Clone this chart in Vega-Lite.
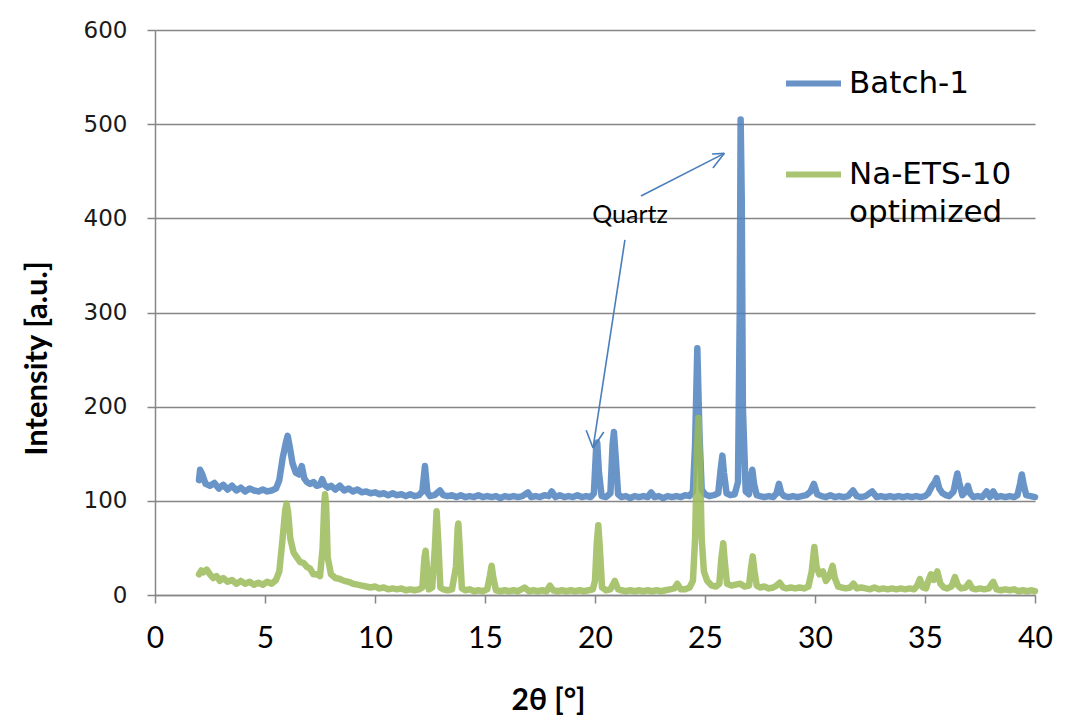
{
  "$schema": "https://vega.github.io/schema/vega-lite/v6.json",
  "width": 880,
  "height": 565,
  "autosize": {"type": "none"},
  "padding": {"left": 155, "top": 30, "right": 39, "bottom": 125},
  "background": "white",
  "config": {
    "view": {"stroke": null},
    "axis": {"domainColor": "#868686", "tickColor": "#868686", "gridColor": "#868686", "gridWidth": 1.5, "domainWidth": 1.5, "tickWidth": 1.5, "tickSize": 8},
    "style": {"guide-label": {"lineHeight": 38}}
  },
  "datasets": {
    "b": [
      {"x":2.0,"y":122},{"x":2.05,"y":133},{"x":2.15,"y":128},{"x":2.3,"y":118},{"x":2.5,"y":116},{"x":2.7,"y":119},{"x":2.9,"y":113},{"x":3.1,"y":117},{"x":3.3,"y":112},{"x":3.5,"y":116},{"x":3.7,"y":111},{"x":3.9,"y":114},{"x":4.1,"y":110},{"x":4.3,"y":113},{"x":4.5,"y":111},{"x":4.7,"y":110},{"x":4.9,"y":112},{"x":5.1,"y":110},{"x":5.3,"y":111},{"x":5.5,"y":113},{"x":5.65,"y":122},{"x":5.8,"y":145},{"x":5.95,"y":162},{"x":6.03,"y":169},{"x":6.12,"y":158},{"x":6.25,"y":140},{"x":6.4,"y":130},{"x":6.55,"y":128},{"x":6.67,"y":137},{"x":6.78,"y":124},{"x":6.9,"y":120},{"x":7.05,"y":118},{"x":7.2,"y":120},{"x":7.35,"y":116},{"x":7.5,"y":117},{"x":7.6,"y":123},{"x":7.7,"y":117},{"x":7.85,"y":114},{"x":8.0,"y":116},{"x":8.2,"y":112},{"x":8.4,"y":116},{"x":8.6,"y":111},{"x":8.8,"y":113},{"x":9.0,"y":110},{"x":9.2,"y":112},{"x":9.4,"y":109},{"x":9.6,"y":110},{"x":9.8,"y":108},{"x":10.0,"y":109},{"x":10.2,"y":107},{"x":10.4,"y":108},{"x":10.6,"y":106},{"x":10.8,"y":108},{"x":11.0,"y":106},{"x":11.2,"y":107},{"x":11.4,"y":105},{"x":11.6,"y":107},{"x":11.8,"y":105},{"x":12.0,"y":106},{"x":12.15,"y":110},{"x":12.27,"y":137},{"x":12.38,"y":109},{"x":12.5,"y":105},{"x":12.7,"y":106},{"x":12.95,"y":111},{"x":13.1,"y":106},{"x":13.3,"y":105},{"x":13.5,"y":106},{"x":13.7,"y":104},{"x":13.9,"y":106},{"x":14.1,"y":104},{"x":14.3,"y":105},{"x":14.5,"y":104},{"x":14.7,"y":106},{"x":14.9,"y":104},{"x":15.1,"y":105},{"x":15.3,"y":104},{"x":15.5,"y":105},{"x":15.7,"y":103},{"x":15.9,"y":105},{"x":16.1,"y":104},{"x":16.3,"y":105},{"x":16.5,"y":104},{"x":16.7,"y":105},{"x":16.95,"y":109},{"x":17.1,"y":104},{"x":17.3,"y":105},{"x":17.5,"y":104},{"x":17.7,"y":106},{"x":17.9,"y":105},{"x":18.03,"y":110},{"x":18.2,"y":104},{"x":18.4,"y":106},{"x":18.6,"y":104},{"x":18.8,"y":105},{"x":19.0,"y":104},{"x":19.2,"y":106},{"x":19.4,"y":104},{"x":19.6,"y":105},{"x":19.8,"y":104},{"x":19.95,"y":108},{"x":20.05,"y":155},{"x":20.1,"y":162},{"x":20.18,"y":130},{"x":20.3,"y":105},{"x":20.5,"y":104},{"x":20.7,"y":108},{"x":20.8,"y":160},{"x":20.86,"y":173},{"x":20.93,"y":150},{"x":21.05,"y":107},{"x":21.2,"y":104},{"x":21.4,"y":105},{"x":21.6,"y":103},{"x":21.8,"y":105},{"x":22.0,"y":104},{"x":22.2,"y":105},{"x":22.4,"y":104},{"x":22.55,"y":109},{"x":22.7,"y":104},{"x":22.9,"y":105},{"x":23.1,"y":103},{"x":23.3,"y":105},{"x":23.5,"y":104},{"x":23.7,"y":105},{"x":23.9,"y":104},{"x":24.1,"y":106},{"x":24.3,"y":105},{"x":24.45,"y":110},{"x":24.55,"y":160},{"x":24.65,"y":262},{"x":24.75,"y":170},{"x":24.85,"y":112},{"x":25.0,"y":107},{"x":25.2,"y":105},{"x":25.4,"y":106},{"x":25.6,"y":108},{"x":25.72,"y":135},{"x":25.79,"y":148},{"x":25.86,"y":130},{"x":25.98,"y":108},{"x":26.15,"y":106},{"x":26.35,"y":107},{"x":26.5,"y":120},{"x":26.58,"y":300},{"x":26.62,"y":505},{"x":26.67,"y":420},{"x":26.72,"y":200},{"x":26.85,"y":110},{"x":27.0,"y":107},{"x":27.08,"y":125},{"x":27.15,"y":133},{"x":27.23,"y":118},{"x":27.35,"y":106},{"x":27.5,"y":105},{"x":27.7,"y":104},{"x":27.9,"y":105},{"x":28.1,"y":104},{"x":28.25,"y":108},{"x":28.36,"y":118},{"x":28.47,"y":108},{"x":28.6,"y":105},{"x":28.8,"y":104},{"x":29.0,"y":105},{"x":29.2,"y":104},{"x":29.4,"y":105},{"x":29.6,"y":106},{"x":29.8,"y":110},{"x":29.95,"y":118},{"x":30.1,"y":107},{"x":30.3,"y":105},{"x":30.5,"y":104},{"x":30.7,"y":106},{"x":30.9,"y":104},{"x":31.1,"y":105},{"x":31.3,"y":104},{"x":31.5,"y":105},{"x":31.73,"y":111},{"x":31.9,"y":105},{"x":32.1,"y":104},{"x":32.3,"y":105},{"x":32.6,"y":110},{"x":32.8,"y":104},{"x":33.0,"y":105},{"x":33.2,"y":104},{"x":33.4,"y":105},{"x":33.6,"y":104},{"x":33.8,"y":105},{"x":34.0,"y":104},{"x":34.2,"y":105},{"x":34.4,"y":104},{"x":34.6,"y":105},{"x":34.8,"y":104},{"x":35.0,"y":105},{"x":35.15,"y":108},{"x":35.3,"y":115},{"x":35.45,"y":120},{"x":35.53,"y":124},{"x":35.65,"y":113},{"x":35.8,"y":108},{"x":35.95,"y":106},{"x":36.1,"y":105},{"x":36.3,"y":110},{"x":36.4,"y":122},{"x":36.47,"y":129},{"x":36.55,"y":120},{"x":36.7,"y":106},{"x":36.85,"y":110},{"x":36.95,"y":116},{"x":37.05,"y":108},{"x":37.2,"y":104},{"x":37.4,"y":105},{"x":37.6,"y":104},{"x":37.8,"y":110},{"x":37.95,"y":104},{"x":38.1,"y":110},{"x":38.25,"y":104},{"x":38.45,"y":105},{"x":38.65,"y":104},{"x":38.85,"y":105},{"x":39.05,"y":104},{"x":39.2,"y":106},{"x":39.32,"y":118},{"x":39.4,"y":128},{"x":39.48,"y":118},{"x":39.6,"y":106},{"x":39.8,"y":105},{"x":40.0,"y":104}
    ],
    "g": [
      {"x":2.0,"y":22},{"x":2.1,"y":26},{"x":2.2,"y":24},{"x":2.35,"y":27},{"x":2.5,"y":22},{"x":2.65,"y":18},{"x":2.8,"y":20},{"x":2.95,"y":15},{"x":3.1,"y":18},{"x":3.3,"y":14},{"x":3.5,"y":16},{"x":3.7,"y":12},{"x":3.9,"y":15},{"x":4.1,"y":12},{"x":4.3,"y":14},{"x":4.5,"y":11},{"x":4.7,"y":13},{"x":4.9,"y":11},{"x":5.1,"y":14},{"x":5.3,"y":12},{"x":5.5,"y":16},{"x":5.65,"y":25},{"x":5.8,"y":60},{"x":5.92,"y":90},{"x":5.98,"y":97},{"x":6.05,"y":88},{"x":6.15,"y":60},{"x":6.3,"y":45},{"x":6.45,"y":40},{"x":6.6,"y":35},{"x":6.75,"y":34},{"x":6.9,"y":30},{"x":7.05,"y":28},{"x":7.2,"y":22},{"x":7.35,"y":22},{"x":7.5,"y":20},{"x":7.62,"y":50},{"x":7.7,"y":100},{"x":7.73,"y":107},{"x":7.78,"y":95},{"x":7.85,"y":40},{"x":8.0,"y":22},{"x":8.2,"y":18},{"x":8.4,"y":17},{"x":8.6,"y":15},{"x":8.8,"y":14},{"x":9.0,"y":12},{"x":9.2,"y":11},{"x":9.4,"y":10},{"x":9.6,"y":9},{"x":9.8,"y":8},{"x":10.0,"y":9},{"x":10.2,"y":7},{"x":10.4,"y":8},{"x":10.6,"y":6},{"x":10.8,"y":7},{"x":11.0,"y":6},{"x":11.2,"y":7},{"x":11.4,"y":5},{"x":11.6,"y":6},{"x":11.8,"y":5},{"x":12.0,"y":6},{"x":12.15,"y":8},{"x":12.25,"y":40},{"x":12.3,"y":47},{"x":12.36,"y":30},{"x":12.45,"y":6},{"x":12.6,"y":8},{"x":12.72,"y":50},{"x":12.8,"y":89},{"x":12.88,"y":55},{"x":12.97,"y":8},{"x":13.1,"y":6},{"x":13.3,"y":5},{"x":13.5,"y":6},{"x":13.68,"y":30},{"x":13.76,"y":72},{"x":13.79,"y":76},{"x":13.85,"y":50},{"x":13.95,"y":7},{"x":14.1,"y":5},{"x":14.3,"y":6},{"x":14.5,"y":4},{"x":14.7,"y":5},{"x":14.9,"y":4},{"x":15.1,"y":6},{"x":15.22,"y":20},{"x":15.3,"y":31},{"x":15.38,"y":18},{"x":15.5,"y":5},{"x":15.7,"y":4},{"x":15.9,"y":5},{"x":16.1,"y":4},{"x":16.3,"y":5},{"x":16.5,"y":4},{"x":16.8,"y":8},{"x":17.0,"y":4},{"x":17.2,"y":5},{"x":17.4,"y":4},{"x":17.6,"y":5},{"x":17.8,"y":4},{"x":17.95,"y":10},{"x":18.1,"y":5},{"x":18.3,"y":4},{"x":18.5,"y":5},{"x":18.7,"y":4},{"x":18.9,"y":5},{"x":19.1,"y":4},{"x":19.3,"y":5},{"x":19.5,"y":4},{"x":19.7,"y":5},{"x":19.9,"y":6},{"x":20.0,"y":15},{"x":20.08,"y":55},{"x":20.15,"y":74},{"x":20.22,"y":50},{"x":20.32,"y":8},{"x":20.5,"y":5},{"x":20.7,"y":6},{"x":20.9,"y":15},{"x":21.05,"y":6},{"x":21.2,"y":5},{"x":21.4,"y":4},{"x":21.6,"y":5},{"x":21.8,"y":4},{"x":22.0,"y":5},{"x":22.2,"y":4},{"x":22.4,"y":5},{"x":22.6,"y":4},{"x":22.8,"y":5},{"x":23.0,"y":4},{"x":23.2,"y":5},{"x":23.4,"y":6},{"x":23.6,"y":7},{"x":23.74,"y":12},{"x":23.9,"y":6},{"x":24.1,"y":6},{"x":24.3,"y":8},{"x":24.45,"y":15},{"x":24.55,"y":60},{"x":24.63,"y":150},{"x":24.7,"y":188},{"x":24.77,"y":140},{"x":24.85,"y":60},{"x":24.95,"y":25},{"x":25.1,"y":15},{"x":25.3,"y":10},{"x":25.5,"y":9},{"x":25.65,"y":12},{"x":25.75,"y":40},{"x":25.83,"y":55},{"x":25.9,"y":35},{"x":26.0,"y":12},{"x":26.2,"y":10},{"x":26.4,"y":11},{"x":26.6,"y":12},{"x":26.8,"y":9},{"x":27.0,"y":10},{"x":27.1,"y":30},{"x":27.17,"y":41},{"x":27.25,"y":25},{"x":27.35,"y":10},{"x":27.5,"y":8},{"x":27.7,"y":9},{"x":27.9,"y":7},{"x":28.1,"y":8},{"x":28.25,"y":10},{"x":28.4,"y":13},{"x":28.55,"y":8},{"x":28.7,"y":7},{"x":28.9,"y":8},{"x":29.1,"y":7},{"x":29.3,"y":8},{"x":29.5,"y":7},{"x":29.7,"y":9},{"x":29.85,"y":25},{"x":29.97,"y":51},{"x":30.07,"y":30},{"x":30.2,"y":22},{"x":30.36,"y":25},{"x":30.5,"y":15},{"x":30.65,"y":20},{"x":30.8,"y":31},{"x":30.9,"y":18},{"x":31.05,"y":9},{"x":31.2,"y":8},{"x":31.4,"y":7},{"x":31.6,"y":8},{"x":31.75,"y":12},{"x":31.9,"y":7},{"x":32.1,"y":8},{"x":32.3,"y":7},{"x":32.5,"y":6},{"x":32.7,"y":8},{"x":32.9,"y":6},{"x":33.1,"y":7},{"x":33.3,"y":6},{"x":33.5,"y":7},{"x":33.7,"y":6},{"x":33.9,"y":7},{"x":34.1,"y":6},{"x":34.3,"y":7},{"x":34.5,"y":6},{"x":34.65,"y":10},{"x":34.77,"y":17},{"x":34.9,"y":8},{"x":35.05,"y":7},{"x":35.15,"y":15},{"x":35.27,"y":22},{"x":35.4,"y":16},{"x":35.56,"y":25},{"x":35.7,"y":12},{"x":35.85,"y":8},{"x":36.0,"y":7},{"x":36.2,"y":9},{"x":36.36,"y":19},{"x":36.5,"y":10},{"x":36.65,"y":7},{"x":36.85,"y":8},{"x":37.0,"y":13},{"x":37.15,"y":7},{"x":37.3,"y":6},{"x":37.5,"y":7},{"x":37.7,"y":6},{"x":37.9,"y":7},{"x":38.1,"y":14},{"x":38.25,"y":6},{"x":38.45,"y":5},{"x":38.65,"y":6},{"x":38.85,"y":5},{"x":39.05,"y":6},{"x":39.25,"y":4},{"x":39.45,"y":5},{"x":39.65,"y":4},{"x":39.85,"y":5},{"x":40.0,"y":4}
    ],
    "arrows": [
      {"x":22.09,"y":423.7,"x2":25.88,"y2":469.0},
      {"x":25.88,"y":469.0,"x2":25.32,"y2":468.3},
      {"x":25.88,"y":469.0,"x2":25.36,"y2":453.4},
      {"x":21.36,"y":377.0,"x2":19.91,"y2":156.1},
      {"x":19.91,"y":156.1,"x2":19.6,"y2":175.0},
      {"x":19.91,"y":156.1,"x2":20.4,"y2":173.1}
    ],
    "notes": [{"x":21.59,"y":403.5,"t":"Quartz"}]
  },
  "layer": [
    {
      "data": {"name": "b"},
      "mark": {"type": "line", "strokeWidth": 6.5, "opacity": 0.85, "strokeJoin": "round", "strokeCap": "round"},
      "encoding": {
        "x": {"field": "x", "type": "quantitative", "scale": {"domain": [0, 40], "nice": false, "zero": false},
          "axis": {"values": [0,5,10,15,20,25,30,35,40], "grid": false, "title": "2θ [°]", "titleFont": "Lato", "titleFontWeight": "bold", "titleFontSize": 30, "titleColor": "black", "titleX": 393, "titleY": 105, "titleBaseline": "middle", "labelFont": "Lato", "labelFontSize": 30, "labelColor": "black", "labelPadding": 20, "labelFlush": false}},
        "y": {"field": "y", "type": "quantitative", "scale": {"domain": [0, 600], "nice": false},
          "axis": {"values": [0,100,200,300,400,500,600], "title": "Intensity [a.u.]", "titleFont": "Lato", "titleFontWeight": "bold", "titleFontSize": 31, "titleColor": "black", "titleX": -118, "titleY": 328, "titleBaseline": "middle", "titleAlign": "center", "labelFont": "DejaVu Sans", "labelFontSize": 23, "labelColor": "#1a1a1a", "labelPadding": 20}},
        "color": {"datum": "Batch-1", "type": "nominal",
          "scale": {"domain": ["Batch-1", "Na-ETS-10 optimized"], "range": ["#4F81BD", "#9BBB59"]},
          "legend": {"title": null, "orient": "none", "legendX": 628, "legendY": 23, "padding": 0, "symbolType": "stroke", "symbolStrokeWidth": 6, "symbolSize": 3025, "symbolOpacity": 1, "labelFont": "DejaVu Sans", "labelFontSize": 31, "labelColor": "black", "labelOffset": 5, "rowPadding": 45, "labelLimit": 300,
            "labelExpr": "datum.label == 'Na-ETS-10 optimized' ? ['Na-ETS-10', 'optimized'] : datum.label"}}
      }
    },
    {
      "data": {"name": "g"},
      "mark": {"type": "line", "strokeWidth": 6.5, "opacity": 0.85, "strokeJoin": "round", "strokeCap": "round"},
      "encoding": {
        "x": {"field": "x", "type": "quantitative"},
        "y": {"field": "y", "type": "quantitative"},
        "color": {"datum": "Na-ETS-10 optimized", "type": "nominal"}
      }
    },
    {
      "data": {"name": "arrows"},
      "mark": {"type": "rule", "color": "#4A7EBB", "strokeWidth": 1.6},
      "encoding": {
        "x": {"field": "x", "type": "quantitative"},
        "y": {"field": "y", "type": "quantitative"},
        "x2": {"field": "x2"},
        "y2": {"field": "y2"}
      }
    },
    {
      "data": {"name": "notes"},
      "mark": {"type": "text", "font": "Lato", "fontSize": 25, "color": "black", "align": "center", "baseline": "middle"},
      "encoding": {
        "x": {"field": "x", "type": "quantitative"},
        "y": {"field": "y", "type": "quantitative"},
        "text": {"field": "t"}
      }
    }
  ]
}
